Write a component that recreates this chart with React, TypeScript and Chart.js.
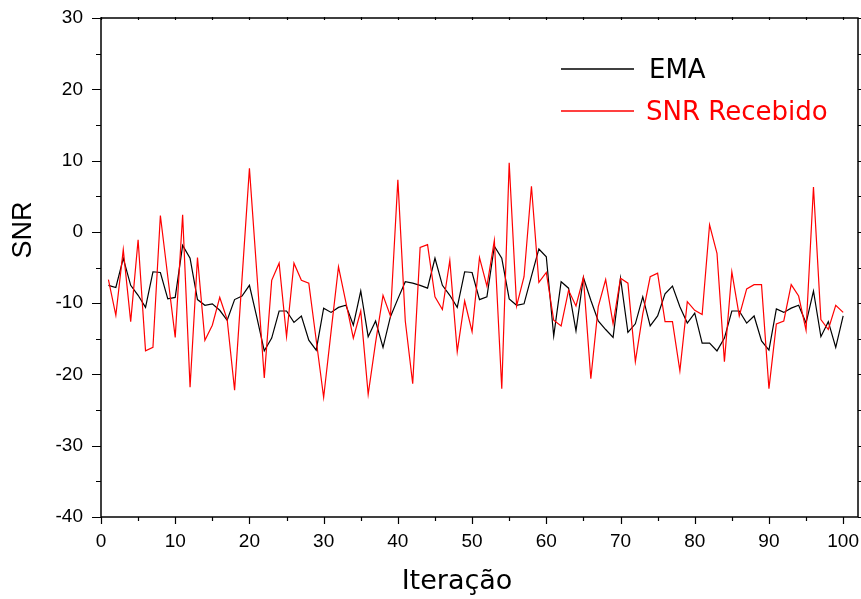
import React, { useEffect, useRef } from "react";
import { Chart, registerables } from "chart.js";

Chart.register(...registerables);

const iterations = [
  1, 2, 3, 4, 5, 6, 7, 8, 9, 10, 11, 12, 13, 14, 15, 16, 17, 18, 19, 20,
  21, 22, 23, 24, 25, 26, 27, 28, 29, 30, 31, 32, 33, 34, 35, 36, 37, 38, 39, 40,
  41, 42, 43, 44, 45, 46, 47, 48, 49, 50, 51, 52, 53, 54, 55, 56, 57, 58, 59, 60,
  61, 62, 63, 64, 65, 66, 67, 68, 69, 70, 71, 72, 73, 74, 75, 76, 77, 78, 79, 80,
  81, 82, 83, 84, 85, 86, 87, 88, 89, 90, 91, 92, 93, 94, 95, 96, 97, 98, 99, 100,
];

const emaValues = [
  -7.5, -7.8, -3.7, -7.5, -8.9, -10.6, -5.6, -5.7, -9.4, -9.2,
  -1.9, -3.7, -9.5, -10.3, -10.1, -11.0, -12.4, -9.5, -9.0, -7.5,
  -12.0, -16.7, -14.9, -11.1, -11.1, -12.7, -11.8, -15.2, -16.6, -10.7,
  -11.3, -10.6, -10.3, -13.1, -8.3, -14.7, -12.5, -16.2, -11.9, -9.4,
  -7.0, -7.2, -7.5, -7.9, -3.7, -7.5, -8.9, -10.6, -5.6, -5.7,
  -9.5, -9.1, -2.0, -3.7, -9.4, -10.3, -10.1, -6.2, -2.4, -3.5,
  -14.6, -7.0, -7.9, -13.9, -6.4, -9.6, -12.5, -13.7, -14.8, -6.5,
  -14.1, -12.9, -9.1, -13.2, -11.8, -8.7, -7.6, -10.5, -12.8, -11.4,
  -15.6, -15.6, -16.7, -14.9, -11.1, -11.1, -12.8, -11.8, -15.3, -16.6,
  -10.8, -11.3, -10.7, -10.3, -12.8, -8.3, -14.7, -12.6, -16.2, -11.8,
];

const snrValues = [
  -6.7, -11.7, -2.5, -12.6, -1.1, -16.7, -16.2, 2.3, -6.3, -14.8,
  2.4, -21.8, -3.6, -15.2, -13.1, -9.2, -12.3, -22.2, -6.6, 8.9,
  -5.8, -20.5, -6.8, -4.4, -14.7, -4.4, -6.8, -7.2, -15.2, -23.2,
  -14.0, -4.9, -9.9, -14.9, -11.1, -22.8, -15.5, -8.9, -11.8, 7.3,
  -12.5, -21.3, -2.2, -1.8, -9.1, -10.9, -4.0, -16.8, -9.7, -14.0,
  -3.6, -7.6, -1.2, -22.0, 9.7, -10.4, -6.3, 6.4, -7.1, -5.7,
  -12.4, -13.2, -8.2, -10.4, -6.4, -20.6, -10.5, -6.7, -12.9, -6.5,
  -7.2, -18.2, -11.5, -6.3, -5.8, -12.6, -12.6, -19.5, -9.8, -11.0,
  -11.6, 1.0, -3.0, -18.2, -5.6, -11.8, -8.0, -7.4, -7.4, -22.0,
  -12.9, -12.5, -7.4, -9.0, -13.8, 6.3, -12.3, -13.7, -10.3, -11.3,
];

const xTickValues = [0, 10, 20, 30, 40, 50, 60, 70, 80, 90, 100];
const yTickValues = [-40, -30, -20, -10, 0, 10, 20, 30];
const seriesLabels = ["EMA", "SNR Recebido"];
const seriesColors = ["#000000", "#ff0000"];
const xTitle = "Iteração";
const yTitle = "SNR";

export default function App() {
  const ref = useRef<HTMLCanvasElement | null>(null);

  useEffect(() => {
    if (!ref.current) return;

    const decor = {
      id: "decor",
      afterDraw(chart: any) {
        const { ctx, chartArea } = chart;
        const { left, right, top, bottom } = chartArea;
        const xs = chart.scales.x;
        const ys = chart.scales.y;
        ctx.save();
        ctx.strokeStyle = "#000";
        ctx.lineWidth = 1.5;
        ctx.strokeRect(left, top, right - left, bottom - top);

        ctx.lineWidth = 1.2;
        ctx.beginPath();
        for (let v = 0; v <= 100; v += 5) {
          const px = Math.round(xs.getPixelForValue(v)) + 0.5;
          const major = v % 10 === 0;
          ctx.moveTo(px, bottom);
          ctx.lineTo(px, bottom + (major ? 7 : 4));
          ctx.moveTo(px, top - 1);
          ctx.lineTo(px, top + 2);
        }
        for (let v = -40; v <= 30; v += 5) {
          const py = Math.round(ys.getPixelForValue(v)) + 0.5;
          const major = v % 10 === 0;
          ctx.moveTo(left, py);
          ctx.lineTo(left - (major ? 9 : 5), py);
          ctx.moveTo(right, py);
          ctx.lineTo(right + 3, py);
        }
        ctx.stroke();

        // legend
        const legendRows = [69, 111];
        const textX = [649, 646];
        ctx.font = "26px 'DejaVu Sans'";
        ctx.textBaseline = "middle";
        ctx.textAlign = "left";
        seriesLabels.forEach((lab, i) => {
          ctx.strokeStyle = seriesColors[i];
          ctx.lineWidth = 1.5;
          ctx.beginPath();
          ctx.moveTo(561, legendRows[i]);
          ctx.lineTo(634, legendRows[i]);
          ctx.stroke();
          ctx.fillStyle = seriesColors[i];
          ctx.fillText(lab, textX[i], legendRows[i] + 2);
        });

        // axis titles
        ctx.fillStyle = "#000";
        ctx.textAlign = "center";
        ctx.textBaseline = "middle";
        ctx.font = "27px 'DejaVu Sans'";
        ctx.fillText(xTitle, 457, 582);
        ctx.save();
        ctx.translate(24, 230);
        ctx.rotate(-Math.PI / 2);
        ctx.font = "27px 'Liberation Sans'";
        ctx.fillText(yTitle, 0, 0);
        ctx.restore();
        ctx.restore();
      },
    };

    const chart = new Chart(ref.current, {
      type: "line",
      data: {
        datasets: [
          {
            label: seriesLabels[1],
            data: iterations.map((x, i) => ({ x, y: snrValues[i] })),
            borderColor: seriesColors[1],
            borderWidth: 1.2,
            pointRadius: 0,
            tension: 0,
            fill: false,
            order: 0,
          },
          {
            label: seriesLabels[0],
            data: iterations.map((x, i) => ({ x, y: emaValues[i] })),
            borderColor: seriesColors[0],
            borderWidth: 1.2,
            pointRadius: 0,
            tension: 0,
            fill: false,
            order: 1,
          },
        ],
      },
      options: {
        animation: false,
        responsive: false,
        events: [],
        layout: { padding: { top: 18, right: 3, left: 0, bottom: 0 } },
        plugins: {
          legend: { display: false },
          tooltip: { enabled: false },
          title: { display: false },
        },
        scales: {
          x: {
            type: "linear",
            min: 0,
            max: 102,
            afterBuildTicks: (s: any) => {
              s.ticks = xTickValues.map((v) => ({ value: v }));
            },
            afterFit: (s: any) => {
              s.height = 82;
              s.paddingLeft = 0;
              s.paddingRight = 0;
            },
            grid: { display: false, drawTicks: false },
            border: { display: false },
            ticks: {
              color: "#000",
              font: { family: "'Liberation Sans'", size: 19 },
              padding: 13,
              maxRotation: 0,
              autoSkip: false,
            },
          },
          y: {
            type: "linear",
            min: -40,
            max: 30,
            afterBuildTicks: (s: any) => {
              s.ticks = yTickValues.map((v) => ({ value: v }));
            },
            afterFit: (s: any) => {
              s.width = 101;
              s.paddingTop = 0;
              s.paddingBottom = 0;
            },
            grid: { display: false, drawTicks: false },
            border: { display: false },
            ticks: {
              color: "#000",
              font: { family: "'Liberation Sans'", size: 19 },
              padding: 18,
              autoSkip: false,
            },
          },
        },
      },
      plugins: [decor],
    });

    return () => chart.destroy();
  }, []);

  return (
    <canvas
      ref={ref}
      width={861}
      height={599}
      style={{ position: "absolute", left: 0, top: 0, display: "block" }}
    />
  );
}
